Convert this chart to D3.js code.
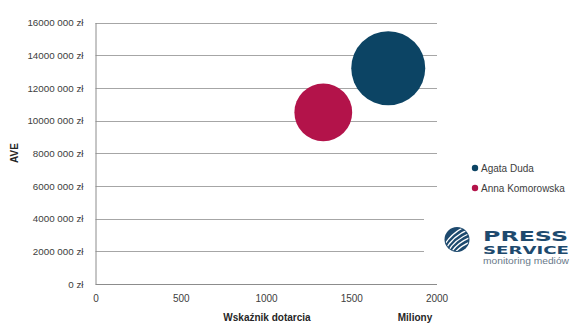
<!DOCTYPE html>
<html><head><meta charset="utf-8">
<script src="https://cdn.jsdelivr.net/npm/d3@7"></script>
<style>body{margin:0;background:#fff}svg{display:block}</style>
</head><body><svg id="c" width="580" height="327"></svg>
<script>
const seriesNames = ["Agata Duda", "Anna Komorowska"];
const reachValues = [1717, 1336];           // Wskaźnik dotarcia (miliony)
const aveValues = [13200000, 10500000];     // AVE (zł)
const bubbleSizes = [100, 61];
const seriesColors = ["#0c4464", "#b3134a"];
const yTickValues = [0,2000000,4000000,6000000,8000000,10000000,12000000,14000000,16000000];
const yTickLabels = ["0 zł","2000 000 zł","4000 000 zł","6000 000 zł","8000 000 zł","10000 000 zł","12000 000 zł","14000 000 zł","16000 000 zł"];
const xTickValues = [0,500,1000,1500,2000];
const xTickLabels = ["0","500","1000","1500","2000"];

const svg = d3.select("#c");
const font = "'Liberation Sans', Arial, sans-serif";
const x = d3.scaleLinear().domain([0,2000]).range([95.5,436.5]);
const y = d3.scaleLinear().domain([0,16000000]).range([284,22.5]);
const r = d3.scaleSqrt().domain([0,100]).range([0,37]);

// gridlines
svg.append("g").selectAll("line").data(yTickValues.filter(v=>v>0)).join("line")
  .attr("x1",95.5).attr("x2",437).attr("y1",d=>Math.round(y(d))+0.5).attr("y2",d=>Math.round(y(d))+0.5)
  .attr("stroke","#a6a6a6").attr("stroke-width",1);

// y axis
const yAxis = d3.axisLeft(y).tickValues(yTickValues).tickFormat((d,i)=>yTickLabels[i]).tickSize(0).tickPadding(12);
const gy = svg.append("g").attr("transform","translate(95.5,0)").call(yAxis);
gy.select(".domain").attr("stroke","#8c8c8c");
gy.selectAll("text").attr("font-family",font).attr("font-size","9.8px").attr("fill","#404040");

// x axis
const xAxis = d3.axisBottom(x).tickValues(xTickValues).tickFormat((d,i)=>xTickLabels[i]).tickSize(0).tickPadding(10);
const gx = svg.append("g").attr("transform","translate(0,284.5)").call(xAxis);
gx.select(".domain").attr("stroke","#8c8c8c").attr("d","M95.5,0H437");
gx.selectAll("text").attr("font-family",font).attr("font-size","10px").attr("fill","#404040");

// bubbles
const data = seriesNames.map((n,i)=>({name:n,x:reachValues[i],y:aveValues[i],s:bubbleSizes[i],c:seriesColors[i]}));
svg.append("g").selectAll("circle").data(data).join("circle")
  .attr("cx",d=>x(d.x)).attr("cy",d=>y(d.y)).attr("r",d=>r(d.s)).attr("fill",d=>d.c);

// axis titles
svg.append("text").attr("transform","translate(18,153) rotate(-90)").attr("text-anchor","middle")
  .attr("font-family",font).attr("font-size","10px").attr("font-weight","bold").attr("fill","#262626").text("AVE");
svg.append("text").attr("x",267).attr("y",321).attr("text-anchor","middle")
  .attr("font-family",font).attr("font-size","10px").attr("font-weight","bold").attr("fill","#262626").text("Wskaźnik  dotarcia");
svg.append("text").attr("x",415).attr("y",321).attr("text-anchor","middle")
  .attr("font-family",font).attr("font-size","10px").attr("font-weight","bold").attr("fill","#262626").text("Miliony");

// legend
const lg = svg.append("g").selectAll("g").data(data).join("g")
  .attr("transform",(d,i)=>`translate(475,${168+i*20})`);
lg.append("circle").attr("r",3.2).attr("fill",d=>d.c);
lg.append("text").attr("x",6).attr("y",3.5).attr("font-family",font).attr("font-size","10px").attr("fill","#404040").text(d=>d.name);

// logo
const logo = svg.append("g");
logo.append("rect").attr("x",424).attr("y",212).attr("width",156).attr("height",62).attr("fill","#fff");
const lc = "#1e4a6e";
logo.append("circle").attr("cx",457).attr("cy",239.5).attr("r",12.5).attr("fill",lc);
logo.append("clipPath").attr("id","lclip").append("circle").attr("cx",457).attr("cy",239.5).attr("r",11.5);
const arcs = logo.append("g").attr("clip-path","url(#lclip)");
[-2,0,2,4,6].forEach(i=>{
  arcs.append("path").attr("d",`M${443+i*1.5},${255+i*0.4} Q${450+i*1.2},${236+i*1.8} ${472},${228+i*2.2}`)
    .attr("fill","none").attr("stroke","#fff").attr("stroke-width",1.3);
});
logo.append("text").attr("x",483).attr("y",241).attr("font-family","'DejaVu Sans', sans-serif").attr("font-weight","bold")
  .attr("font-size","12px").attr("fill",lc).attr("textLength",85).attr("lengthAdjust","spacingAndGlyphs")
  .attr("transform","translate(0,241) scale(1,1.2) translate(0,-241)").text("PRESS");
logo.append("text").attr("x",483).attr("y",253.5).attr("font-family","'DejaVu Sans', sans-serif").attr("font-weight","bold")
  .attr("font-size","10px").attr("fill",lc).attr("textLength",86).attr("lengthAdjust","spacingAndGlyphs").text("SERVICE");
logo.append("text").attr("x",483).attr("y",263.5).attr("font-family",font)
  .attr("font-size","8.5px").attr("fill","#6a7a8a").attr("textLength",86).attr("lengthAdjust","spacingAndGlyphs").text("monitoring mediów");
</script></body></html>
